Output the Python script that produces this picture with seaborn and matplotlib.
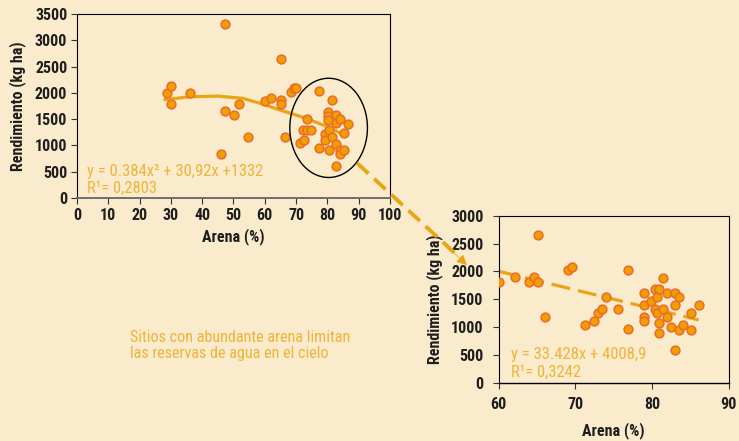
import numpy as np
import pandas as pd
import seaborn as sns
import matplotlib
matplotlib.use("Agg")
import matplotlib.pyplot as plt
from matplotlib.patches import Ellipse, FancyArrowPatch
from matplotlib.lines import Line2D

# --- Data: all sites (sand % vs yield) ---
arena_all = [28.9, 30.1, 30.1, 36.1, 47.3, 47.3, 46.0, 50.3, 51.7, 54.6,
             60.0, 61.9, 65.1, 65.1, 65.1, 66.3, 68.5, 69.2, 69.9, 71.1,
             72.4, 72.2, 73.5, 74.9, 73.6, 77.3, 77.3, 79.1, 79.1, 80.3,
             80.3, 80.3, 80.5, 80.5, 81.6, 81.6, 82.9, 82.9, 82.9, 82.9,
             84.1, 84.1, 84.1, 85.4, 85.4, 86.7]
rend_all = [1988, 2135, 1785, 1988, 3316, 1652, 839, 1576, 1785, 1169,
            1836, 1906, 2649, 1862, 1785, 1169, 2020, 2084, 2097, 1055,
            1099, 1290, 1290, 1290, 1506, 2027, 947, 1213, 1099, 1639,
            1563, 1493, 1290, 909, 1862, 1169, 1576, 1430, 1023, 610,
            1506, 915, 832, 1245, 909, 1410]

# polynomial trend of all sites, sampled along the fitted curve
trend_x = [28, 36, 45, 53, 58.5, 65, 73, 80, 85.5]
trend_y = [1870, 1925, 1938, 1896, 1800, 1672, 1520, 1356, 1195]

# --- Data: sites with sand >= 60 % ---
arena_sub = [60.0, 62.1, 64.0, 64.6, 65.1, 65.1, 66.1, 69.0, 69.5, 71.3,
             72.4, 73.0, 73.5, 74.0, 75.6, 76.9, 76.9, 79.0, 79.0, 79.0,
             79.0, 79.9, 80.4, 80.7, 80.4, 80.7, 80.9, 80.9, 80.9, 81.4,
             81.4, 82.0, 82.0, 82.5, 83.0, 83.0, 83.0, 83.5, 83.5, 84.0,
             85.1, 85.1, 86.1]
rend_sub = [1817, 1895, 1817, 1895, 1817, 2654, 1189, 2032, 2080, 1040,
            1118, 1261, 1333, 1536, 1333, 2032, 974, 1608, 1399, 1189,
            1118, 1470, 1680, 1536, 1333, 1261, 1680, 1082, 903, 1889,
            1333, 1608, 1189, 1010, 1608, 1399, 598, 1536, 944, 1046,
            1261, 944, 1399]

# linear trend of the subset (as printed on the chart)
lin_slope = -33.428
lin_intercept = 4008.9

top_xticks = [0, 10, 20, 30, 40, 50, 60, 70, 80, 90, 100]
top_yticks = [0, 500, 1000, 1500, 2000, 2500, 3000, 3500]
bot_xticks = [60, 70, 80, 90]
bot_yticks = [0, 500, 1000, 1500, 2000, 2500, 3000]

eq_top = ["y = 0.384x\u00b2 + 30,92x +1332", "R\u00b9= 0,2803"]
eq_bot = ["y = 33.428x + 4008,9", "R\u00b9= 0,3242"]
note = ["Sitios con abundante arena limitan", "las reservas de agua en el cielo"]

# --- Style ---
BG = "#FAEBCD"
FACE = "#EDA000"
EDGE = "#EE6A2C"
TREND = "#E8A514"
TXT_OR = "#EDB43A"
DARK = "#1E1E1E"

sns.set_theme(style="white")
plt.rcParams["font.family"] = ["Roboto Condensed", "Liberation Sans Narrow", "DejaVu Sans"]
plt.rcParams["axes.facecolor"] = BG
plt.rcParams["figure.facecolor"] = BG

fig = plt.figure(figsize=(7.39, 4.41), dpi=100)
ax1 = fig.add_axes([0.1042, 0.551, 0.4235, 0.4173])
ax2 = fig.add_axes([0.6748, 0.1315, 0.3112, 0.3794])

df_all = pd.DataFrame({"arena": arena_all, "rend": rend_all})
df_sub = pd.DataFrame({"arena": arena_sub, "rend": rend_sub})
df_trend = pd.DataFrame({"arena": trend_x, "rend": trend_y})

# --- Top panel ---
sns.lineplot(data=df_trend, x="arena", y="rend", color=TREND, lw=2.3,
             solid_capstyle="round", ax=ax1)
sns.scatterplot(data=df_all, x="arena", y="rend", s=40, color=FACE,
                edgecolor=EDGE, linewidth=1.1, zorder=3, ax=ax1)
ax1.add_patch(Ellipse((80.4, 1334), 24.8, 1887, fill=False, ec="black", lw=1.0, zorder=4))

ax1.set_xlim(0, 100)
ax1.set_ylim(0, 3500)
ax1.set_xticks(top_xticks)
ax1.set_yticks(top_yticks)

# --- Bottom panel ---
xl = np.array([min(arena_sub), max(arena_sub)])
sns.lineplot(x=xl, y=lin_slope * xl + lin_intercept, color=TREND, lw=2.3,
             ax=ax2).lines[0].set_dashes([6, 2.5])
sns.scatterplot(data=df_sub, x="arena", y="rend", s=40, color=FACE,
                edgecolor=EDGE, linewidth=1.1, zorder=3, ax=ax2)
ax2.set_xlim(60, 90)
ax2.set_ylim(0, 3000)
ax2.set_xticks(bot_xticks)
ax2.set_yticks(bot_yticks)

for ax in (ax1, ax2):
    ax.set_ylabel("Rendimiento (kg ha)", fontsize=11.5, fontweight="bold", color=DARK, labelpad=6)
    ax.tick_params(axis="both", which="major", direction="out", length=4, width=0.8,
                   color="#333333", labelsize=11.5, labelcolor=DARK, pad=3,
                   bottom=True, left=True)
    for lbl in ax.get_xticklabels() + ax.get_yticklabels():
        lbl.set_fontweight("bold")
    for side in ("top", "right", "left"):
        ax.spines[side].set_color("black")
        ax.spines[side].set_linewidth(0.8)
    ax.spines["bottom"].set_color("#6E6E6E")
    ax.spines["bottom"].set_linewidth(1.4)
    ax.grid(False)

ax1.set_xlabel("Arena (%)", fontsize=11.5, fontweight="bold", color=DARK, labelpad=4)
ax2.set_xlabel("Arena (%)", fontsize=11.5, fontweight="bold", color=DARK, labelpad=7)
ax2.tick_params(axis="x", pad=6)
ax2.tick_params(axis="y", pad=7)
ax2.spines["bottom"].set_color("black")
ax2.spines["bottom"].set_linewidth(1.0)

# equations
txt_kw = dict(fontsize=12, color=TXT_OR, va="baseline")
ax1.text(3.2, 418, eq_top[0], **txt_kw)
ax1.text(3.2, 90, eq_top[1], **txt_kw)
ax2.text(61.6, 425, eq_bot[0], **txt_kw)
ax2.text(61.6, 115, eq_bot[1], **txt_kw)

# note text
note_kw = dict(fontsize=11.6, color=TXT_OR, va="baseline")
fig.text(130 / 739, 1 - 342 / 441, note[0], **note_kw)
fig.text(130 / 739, 1 - 358 / 441, note[1], **note_kw)

# dashed arrow linking the panels
W, H = 739.0, 441.0
p0 = (357 / W, 1 - 163 / H)
p1 = (460 / W, 1 - 258 / H)
tip = (469 / W, 1 - 267 / H)
fig.add_artist(Line2D([p0[0], p1[0]], [p0[1], p1[1]], transform=fig.transFigure,
                      color=TREND, lw=2.8, dashes=[4, 2]))
fig.add_artist(FancyArrowPatch((452 / W, 1 - 251 / H), tip, transform=fig.transFigure,
                               arrowstyle="-|>", mutation_scale=16, color=TREND, lw=0.5))

fig.savefig("out.png", dpi=100, facecolor=BG)
